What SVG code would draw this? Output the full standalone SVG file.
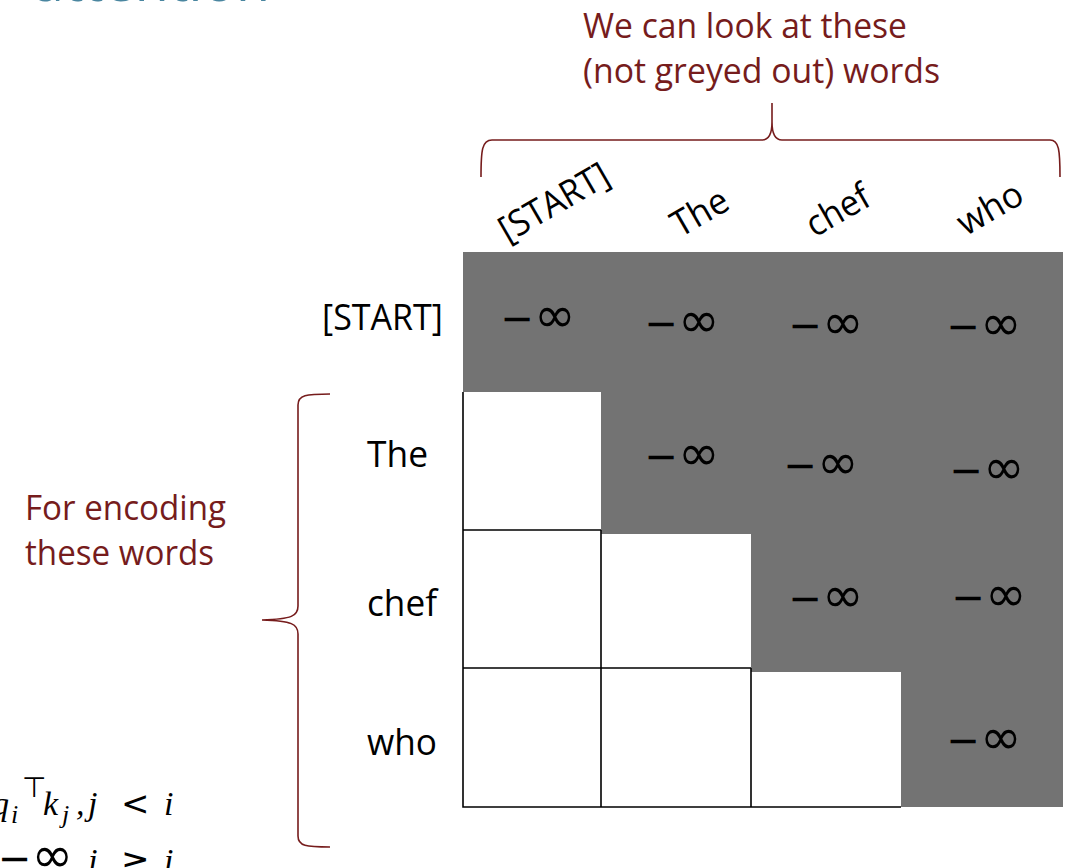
<svg xmlns="http://www.w3.org/2000/svg" width="1070" height="868" viewBox="0 0 1070 868">
<style>
.lbl{font-family:"Open Sans","Liberation Sans",sans-serif;fill:#000;font-size:36px}
.note{font-family:"Open Sans","Liberation Sans",sans-serif;fill:#761C1C;font-size:35px}
.inf{font-family:"DejaVu Sans",sans-serif;font-size:40px;fill:#000;text-anchor:middle}
.inf tspan{font-size:50px}
.brace{fill:none;stroke:#761C1C;stroke-width:1.6}
.grid{stroke:#000;stroke-width:1.6;fill:none}
.math{font-family:"Liberation Serif","DejaVu Serif",serif;font-style:italic;font-size:34px;fill:#000}
.up{font-family:"DejaVu Sans",sans-serif;font-style:normal}
.sub{font-size:26px}
</style>
<rect width="1070" height="868" fill="#fff"/>
<text x="33" y="1" font-family="Open Sans, Liberation Sans, sans-serif" font-size="54" fill="#4A86A0" textLength="237" lengthAdjust="spacingAndGlyphs">attention</text>

<g id="top-note">
<text class="note" x="583" y="38" textLength="324" lengthAdjust="spacingAndGlyphs">We can look at these</text>
<text class="note" x="583" y="83" textLength="357" lengthAdjust="spacingAndGlyphs">(not greyed out) words</text>
</g>
<g id="left-note">
<text class="note" x="25" y="520" textLength="201" lengthAdjust="spacingAndGlyphs">For encoding</text>
<text class="note" x="25" y="565" textLength="189" lengthAdjust="spacingAndGlyphs">these words</text>
</g>

<g id="braces">
<path class="brace" d="M481,177 C481,150 482,140 492,140 L762,140 C769,140 772,134 772,122 L772,103 L772,122 C772,134 775,140 782,140 L1050,140 C1059,140 1060,150 1060,177"/>
<path class="brace" d="M330,394 C306,394 298,395 298,405 L298,606 C298,616 292,619 262,620 C292,621 298,624 298,634 L298,836 C298,846 306,847 330,847"/>
</g>

<g id="matrix">
<rect x="463" y="252" width="600" height="555" fill="#737373"/>
<rect x="463" y="392" width="138" height="138" fill="#fff"/>
<rect x="463" y="530" width="288" height="138" fill="#fff"/>
<rect x="601" y="530" width="150" height="4" fill="#737373"/>
<rect x="463" y="668" width="438" height="139" fill="#fff"/>
<rect x="751" y="668" width="150" height="4" fill="#737373"/>
<path class="grid" d="M463,392 V807 H901 M463,530 H601 M463,668 H751 M601,530 V807 M751,668 V807"/>
</g>

<g id="mask-values">
<text class="inf" x="538" y="332">−<tspan>∞</tspan></text>
<text class="inf" x="682" y="337">−<tspan>∞</tspan></text>
<text class="inf" x="826" y="339">−<tspan>∞</tspan></text>
<text class="inf" x="984" y="340">−<tspan>∞</tspan></text>
<text class="inf" x="682" y="470">−<tspan>∞</tspan></text>
<text class="inf" x="821" y="479">−<tspan>∞</tspan></text>
<text class="inf" x="987" y="484">−<tspan>∞</tspan></text>
<text class="inf" x="826" y="612">−<tspan>∞</tspan></text>
<text class="inf" x="989" y="611">−<tspan>∞</tspan></text>
<text class="inf" x="984" y="754">−<tspan>∞</tspan></text>
</g>

<g id="col-labels">
<text class="lbl" text-anchor="middle" transform="translate(560,213) rotate(-30)" textLength="121" lengthAdjust="spacingAndGlyphs">[START]</text>
<text class="lbl" text-anchor="middle" transform="translate(706,223) rotate(-30)" textLength="60" lengthAdjust="spacingAndGlyphs">The</text>
<text class="lbl" text-anchor="middle" transform="translate(844,221) rotate(-30)" textLength="68" lengthAdjust="spacingAndGlyphs">chef</text>
<text class="lbl" text-anchor="middle" transform="translate(996,219) rotate(-30)" textLength="70" lengthAdjust="spacingAndGlyphs">who</text>
</g>

<g id="row-labels">
<text class="lbl" x="322" y="330" textLength="121" lengthAdjust="spacingAndGlyphs">[START]</text>
<text class="lbl" x="367" y="467" textLength="61" lengthAdjust="spacingAndGlyphs">The</text>
<text class="lbl" x="367" y="616" textLength="70" lengthAdjust="spacingAndGlyphs">chef</text>
<text class="lbl" x="367" y="755" textLength="70" lengthAdjust="spacingAndGlyphs">who</text>
</g>

<g id="formula">
<text class="math" y="815"><tspan x="-8">q</tspan><tspan x="11" dy="8" class="sub">i</tspan><tspan x="22" dy="-26" class="up" font-size="28">⊤</tspan><tspan x="43" dy="18">k</tspan><tspan x="62" dy="8" class="sub">j</tspan><tspan x="76" dy="-8">,</tspan><tspan x="88">j</tspan><tspan x="121" class="up">&lt;</tspan><tspan x="164">i</tspan></text>
<text class="math" y="872"><tspan x="-2" class="up" font-size="40">−</tspan><tspan class="up" font-size="50">∞</tspan><tspan x="66">,</tspan><tspan x="88">j</tspan><tspan x="121" class="up">≥</tspan><tspan x="164">i</tspan></text>
</g>
</svg>
